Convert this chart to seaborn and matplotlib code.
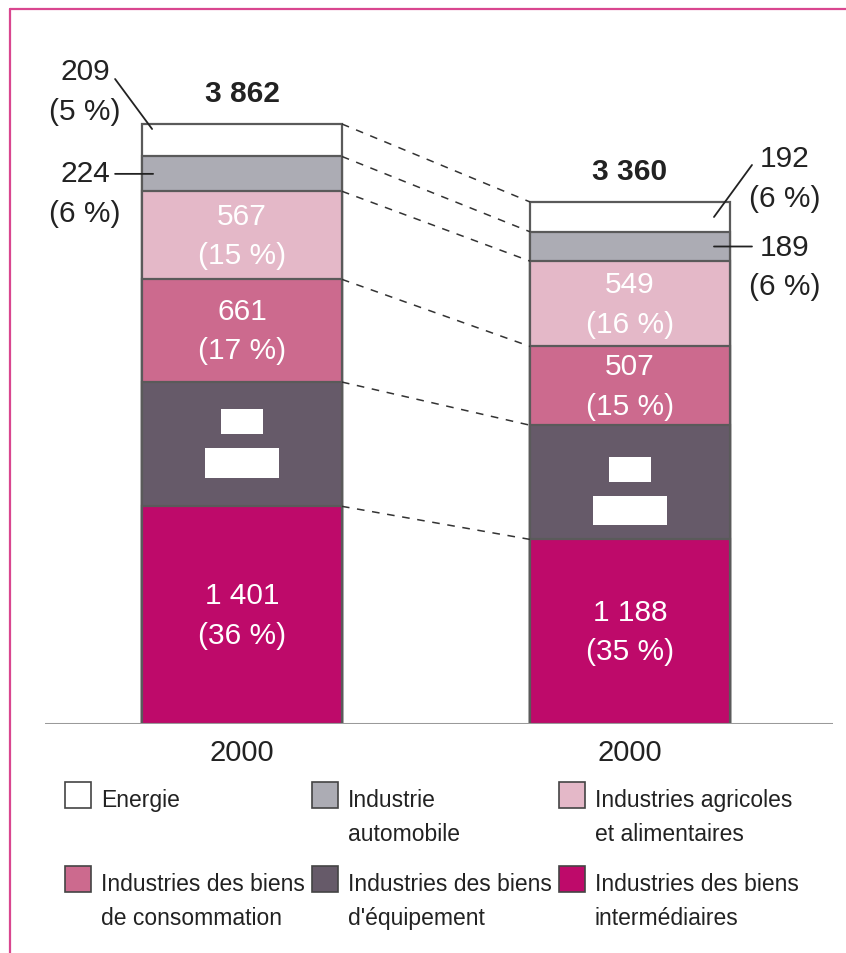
import matplotlib
matplotlib.use("Agg")
import matplotlib.pyplot as plt
import seaborn as sns
import pandas as pd
import numpy as np
from matplotlib.patches import Rectangle
from matplotlib.lines import Line2D
from matplotlib.transforms import offset_copy

sns.set_theme(style="white")
plt.rcParams['font.family'] = ['Liberation Sans', 'DejaVu Sans']

# ---------------- data ----------------
bar_keys = ["gauche", "droite"]
tick_labels = ["2000", "2000"]
# order: bottom -> top
sectors = ["Industries des biens intermédiaires", "Industries des biens d'équipement",
           "Industries des biens de consommation", "Industries agricoles et alimentaires",
           "Industrie automobile", "Energie"]
values_left = [1401, 800, 661, 567, 224, 209]
values_right = [1188, 735, 507, 549, 189, 192]
pct_left = ["36 %", "21 %", "17 %", "15 %", "6 %", "5 %"]
pct_right = ["35 %", "22 %", "15 %", "16 %", "6 %", "6 %"]
value_text_left = ["1 401", "800", "661", "567", "224", "209"]
value_text_right = ["1 188", "735", "507", "549", "189", "192"]
totals_text = ["3 862", "3 360"]
colors = ["#BE0A6A", "#665A69", "#CC6A8E", "#E4B8C8", "#ACACB4", "#FFFFFF"]
legend_labels = ["Energie", "Industrie\nautomobile", "Industries agricoles\net alimentaires",
                 "Industries des biens\nde consommation", "Industries des biens\nd'équipement",
                 "Industries des biens\nintermédiaires"]
legend_colors = ["#FFFFFF", "#ACACB4", "#E4B8C8", "#CC6A8E", "#665A69", "#BE0A6A"]

# ---------------- figure ----------------
W, H = 846, 954
fig = plt.figure(figsize=(W / 100, H / 100), dpi=100)
ax = fig.add_axes([45 / W, 1 - 725 / H, 788 / W, 705 / H])

cum_left = np.cumsum(values_left)
cum_right = np.cumsum(values_right)
bar_w = 0.515
edge = "#5a5a5a"

# stacked bars drawn top layer first (cumulative heights)
for i in range(len(sectors) - 1, -1, -1):
    df = pd.DataFrame({"bar": bar_keys, "cum": [cum_left[i], cum_right[i]]})
    sns.barplot(data=df, x="bar", y="cum", order=bar_keys, color=colors[i], saturation=1,
                width=bar_w, edgecolor=edge, linewidth=1.6, ax=ax)

ymax = cum_left[-1] * 705 / 600
ax.set_ylim(0, ymax)
ax.set_xlim(-0.5077, 1.523)
for s in ax.spines.values():
    s.set_visible(False)
ax.set_yticks([])
ax.set_xticks([0, 1])
ax.set_xticklabels(tick_labels, fontsize=21, color="#222222")
ax.tick_params(axis="x", length=0, pad=10)
ax.set_xlabel("")
ax.set_ylabel("")
ax.axhline(0, color="#9a9a9a", lw=2.2, zorder=5)

# dashed connectors
for i in range(len(sectors)):
    ax.plot([bar_w / 2, 1 - bar_w / 2], [cum_left[i], cum_right[i]], color="#333333",
            lw=1.1, ls=(0, (5, 5)), zorder=1)

FS = 21.5
LS = 1.52
mask_offsets = [(23, -19), (13, -28)]
# in-bar labels
for xpos, vals, cums, vt, pt, mo in [(0, values_left, cum_left, value_text_left, pct_left, mask_offsets[0]),
                                     (1, values_right, cum_right, value_text_right, pct_right, mask_offsets[1])]:
    for i in range(4):
        yc = cums[i] - vals[i] / 2
        if i == 1:
            # masked labels (white boxes in the source)
            ax.text(xpos, yc, vt[i], ha="center", va="center", fontsize=16, color="white",
                    transform=offset_copy(ax.transData, fig=fig, x=0, y=mo[0], units="dots"),
                    bbox=dict(facecolor="white", edgecolor="none", pad=1.5))
            ax.text(xpos, yc, "(" + pt[i] + ")", ha="center", va="center", fontsize=16, color="white",
                    transform=offset_copy(ax.transData, fig=fig, x=0, y=mo[1], units="dots"),
                    bbox=dict(facecolor="white", edgecolor="none", pad=3))
        else:
            ax.text(xpos, yc, vt[i] + "\n(" + pt[i] + ")", ha="center", va="center",
                    fontsize=FS, color="white", linespacing=LS)

# totals
for xpos, c, t in [(0, cum_left[-1], totals_text[0]), (1, cum_right[-1], totals_text[1])]:
    ax.annotate(t, xy=(xpos, c), xytext=(0, 31), textcoords="offset pixels", ha="center",
                va="center", fontsize=FS, fontweight="bold", color="#222222")


def leader(xd, yd, p0, p1):
    tr = offset_copy(ax.transData, fig=fig, x=p1[0], y=p1[1], units="dots")
    ax.annotate("", xy=(xd, yd), xycoords=tr, xytext=(p0[0] - p1[0], p0[1] - p1[1]),
                textcoords="offset pixels",
                arrowprops=dict(arrowstyle="-", lw=1.3, color="#222222", shrinkA=0, shrinkB=0))


def outer(xd, yd, txt, off):
    ax.annotate(txt, xy=(xd, yd), xytext=off, textcoords="offset pixels", ha="center",
                va="center", fontsize=FS, color="#222222", linespacing=LS)

# left energy
xl = -bar_w / 2
outer(xl, cum_left[5], value_text_left[5] + "\n(" + pct_left[5] + ")", (-57, 33))
leader(xl, cum_left[5], (-27, 45), (10, -5))
# left auto
yc = cum_left[4] - values_left[4] / 2
outer(xl, yc, value_text_left[4] + "\n(" + pct_left[4] + ")", (-57, -19))
leader(xl, yc, (-27, 0), (11, 0))
# right energy
xr = 1 + bar_w / 2
outer(xr, cum_right[5], value_text_right[5] + "\n(" + pct_right[5] + ")", (55, 24))
leader(xr, cum_right[5], (22, 37), (-16, -15))
# right auto
yc = cum_right[4] - values_right[4] / 2
outer(xr, yc, value_text_right[4] + "\n(" + pct_right[4] + ")", (55, -20))
leader(xr, yc, (22, 0), (-16, 0))

# legend (manual grid, handle aligned with first line)
for k, (lab, col) in enumerate(zip(legend_labels, legend_colors)):
    r, c = divmod(k, 3)
    x0 = 65 + c * 247
    y0 = 783 + r * 84
    fig.patches.append(Rectangle((x0 / W, 1 - (y0 + 26) / H), 26 / W, 26 / H,
                                 transform=fig.transFigure, facecolor=col,
                                 edgecolor="#444444", lw=1.2))
    fig.text((x0 + 36) / W, 1 - (y0 + 6) / H, lab, ha="left", va="top", fontsize=16.5,
             color="#222222", linespacing=1.6)

# magenta frame (top and left)
fig.add_artist(Line2D([10 / W, 1], [1 - 10 / H, 1 - 10 / H], transform=fig.transFigure,
                      color="#D9468F", lw=1.6))
fig.add_artist(Line2D([10 / W, 10 / W], [0, 1 - 10 / H], transform=fig.transFigure,
                      color="#D9468F", lw=1.6))

fig.savefig("out.png", dpi=100)
